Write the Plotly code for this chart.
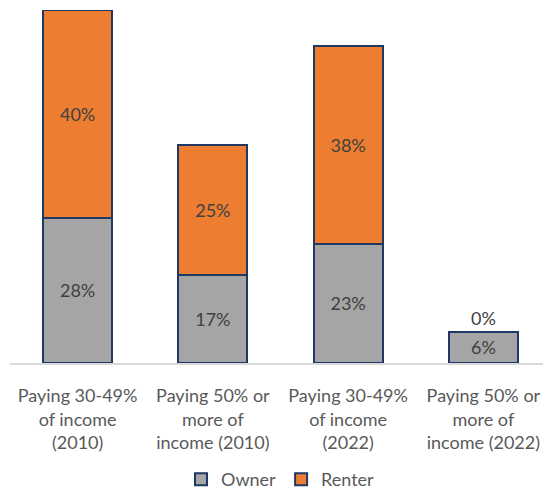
import plotly.graph_objects as go

categories = [
    "Paying 30-49%<br>of income<br>(2010)",
    "Paying 50% or<br>more of<br>income (2010)",
    "Paying 30-49%<br>of income<br>(2022)",
    "Paying 50% or<br>more of<br>income (2022)",
]
owner = [28, 17, 23, 6]
renter = [40, 25, 38, 0]

fig = go.Figure()

fig.add_trace(go.Bar(
    x=categories, y=owner, name="Owner",
    marker=dict(color="#A5A5A5", line=dict(color="#1F3864", width=2)),
    text=[f"{v}%" for v in owner], textposition="inside",
    insidetextanchor="middle", constraintext="none",
    textfont=dict(size=18, color="#404040"),
))
fig.add_trace(go.Bar(
    x=categories, y=renter, name="Renter",
    marker=dict(color="#ED7D31", line=dict(color="#1F3864", width=2)),
    text=[f"{v}%" for v in renter],
    textposition=["inside" if v > 0 else "outside" for v in renter],
    insidetextanchor="middle", constraintext="none",
    textfont=dict(size=18, color="#404040"),
    cliponaxis=False,
))

# page body adds 8px offset, so figure is 8px smaller than the window
fig.update_layout(
    barmode="stack",
    bargap=0.49,
    width=543, height=486,
    margin=dict(l=2, r=0, t=2, b=131, autoexpand=False),
    plot_bgcolor="white", paper_bgcolor="white",
    font=dict(family="Lato", color="#595959", size=17),
    showlegend=True,
    legend=dict(orientation="h", x=0.5, xanchor="center", y=-0.278, yanchor="top",
                traceorder="normal",
                font=dict(size=18, color="#595959"), itemwidth=30),
)
fig.update_xaxes(showline=True, linecolor="#D9D9D9", linewidth=1.5, automargin=False,
                 tickfont=dict(size=18, color="#595959"), ticks="",
                 ticklabelstandoff=16)
fig.update_yaxes(visible=False, range=[0, 68], showgrid=False)

fig.write_html("out.html")
